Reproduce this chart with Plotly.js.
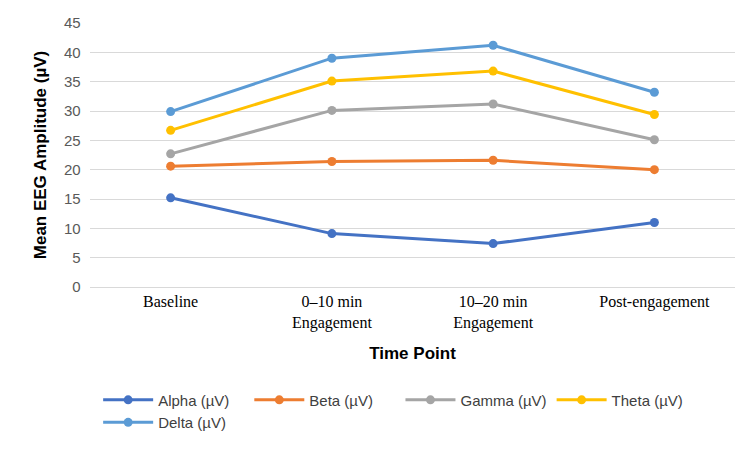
<!DOCTYPE html>
<html>
<head>
<meta charset="utf-8">
<script src="https://cdn.plot.ly/plotly-3.0.1.min.js"></script>
<style>body{margin:0;background:#fff}</style>
</head>
<body>
<div id="chart" style="width:750px;height:451px"></div>
<script>
const categories = ['Baseline', '0–10 min<br>Engagement', '10–20 min<br>Engagement', 'Post-engagement'];
const alpha = [15.2, 9.1, 7.4, 11.0];
const beta = [20.6, 21.4, 21.6, 20.0];
const gamma = [22.7, 30.1, 31.2, 25.1];
const theta = [26.7, 35.1, 36.8, 29.4];
const delta = [29.9, 39.0, 41.2, 33.2];

const seriesNames = ['Alpha (µV)', 'Beta (µV)', 'Gamma (µV)', 'Theta (µV)', 'Delta (µV)'];
const seriesValues = [alpha, beta, gamma, theta, delta];
const colors = ['#4472C4', '#ED7D31', '#A5A5A5', '#FFC000', '#5B9BD5'];

const data = seriesNames.map(function (name, i) {
	return {
		x: [0, 1, 2, 3],
		y: seriesValues[i],
		name: name,
		type: 'scatter',
		mode: 'lines+markers',
		line: {color: colors[i], width: 3},
		marker: {color: colors[i], size: 9}
	};
});

const layout = {
	width: 750,
	height: 451,
	margin: {l: 90, r: 15, t: 23, b: 160},
	paper_bgcolor: '#fff',
	plot_bgcolor: '#fff',
	showlegend: true,
	legend: {
		orientation: 'h', x: 0.47, xanchor: 'center', y: -0.47, yanchor: 'middle',
		itemwidth: 50,
		font: {family: 'Liberation Sans, Arial', size: 15, color: '#404040'}
	},
	xaxis: {
		range: [-0.5, 3.5],
		tickvals: [0, 1, 2, 3],
		ticktext: categories,
		showgrid: false,
		zeroline: false,
		showline: true,
		linecolor: '#d9d9d9',
		tickfont: {family: 'Liberation Serif, Times New Roman', size: 16, color: '#000'},
		title: {text: 'Time Point', standoff: 16, font: {family: 'Liberation Sans, Arial', size: 17, color: '#000', weight: 'bold'}}
	},
	yaxis: {
		range: [0, 45],
		dtick: 5,
		gridcolor: '#d9d9d9',
		zeroline: false,
		tickfont: {family: 'Liberation Sans, Arial', size: 15, color: '#595959'},
		ticksuffix: '  ',
		title: {text: 'Mean EEG Amplitude (µV)', font: {family: 'Liberation Sans, Arial', size: 17, color: '#000', weight: 'bold'}}
	}
};

Plotly.newPlot('chart', data, layout, {displayModeBar: false});
</script>
</body>
</html>
